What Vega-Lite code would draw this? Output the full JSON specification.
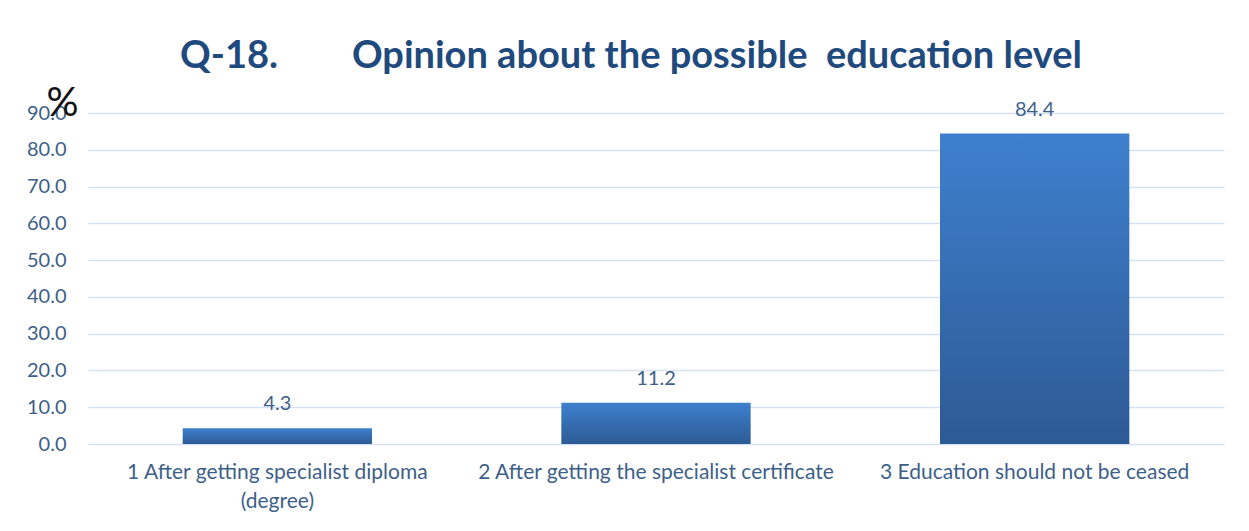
{
  "$schema": "https://vega.github.io/schema/vega-lite/v6.json",
  "width": 1136,
  "height": 331,
  "autosize": {"type": "none"},
  "padding": {"left": 88, "top": 113, "right": 25, "bottom": 87},
  "background": "white",
  "title": {
    "text": "Q-18.\u00a0\u00a0\u00a0\u00a0\u00a0\u00a0\u00a0\u00a0Opinion about the possible\u00a0 education level",
    "font": "Lato",
    "fontSize": 38,
    "fontWeight": "bold",
    "color": "#1F4A7D",
    "anchor": "middle",
    "baseline": "alphabetic",
    "dx": -25,
    "dy": 38,
    "offset": 15
  },
  "data": {
    "values": [
      {"category": "1 After getting specialist diploma (degree)", "pct": 4.3},
      {"category": "2 After getting the specialist certificate", "pct": 11.2},
      {"category": "3 Education should not be ceased", "pct": 84.4}
    ]
  },
  "encoding": {
    "x": {
      "field": "category",
      "type": "nominal",
      "sort": null,
      "scale": {"paddingInner": 0.5, "paddingOuter": 0.25},
      "axis": {
        "title": null,
        "labelAngle": 0,
        "labelFont": "Lato",
        "labelFontSize": 21,
        "labelColor": "#3E5F8A",
        "labelPadding": 17,
        "labelLimit": 0,
        "labelLineHeight": 29,
        "labelBaseline": "top",
        "domain": false,
        "ticks": false,
        "labelExpr": "datum.value == '1 After getting specialist diploma (degree)' ? ['1 After getting specialist diploma', '(degree)'] : datum.label"
      }
    },
    "y": {
      "field": "pct",
      "type": "quantitative",
      "scale": {"domain": [0, 90], "nice": false},
      "axis": {
        "values": [0, 10, 20, 30, 40, 50, 60, 70, 80, 90],
        "format": ".1f",
        "title": "%",
        "titleAngle": 0,
        "titleFont": "Lato",
        "titleFontSize": 40,
        "titleFontWeight": "normal",
        "titleColor": "#111111",
        "titleAlign": "center",
        "titleBaseline": "middle",
        "titleX": -26,
        "titleY": -10,
        "labelFont": "Lato",
        "labelFontSize": 20,
        "labelColor": "#3E5F8A",
        "labelPadding": 22,
        "domain": false,
        "ticks": false,
        "gridColor": "#D6E1F1",
        "gridWidth": 1.5
      }
    }
  },
  "layer": [
    {
      "mark": {
        "type": "bar",
        "color": {
          "gradient": "linear",
          "x1": 0, "y1": 0, "x2": 0, "y2": 1,
          "stops": [
            {"offset": 0, "color": "#3E80CE"},
            {"offset": 1, "color": "#2D5A94"}
          ]
        }
      }
    },
    {
      "mark": {
        "type": "text",
        "baseline": "alphabetic",
        "dy": -18,
        "font": "Lato",
        "fontSize": 20,
        "color": "#3E5F8A"
      },
      "encoding": {
        "text": {"field": "pct", "type": "quantitative", "format": ".1f"}
      }
    }
  ],
  "config": {
    "view": {"stroke": null}
  }
}
